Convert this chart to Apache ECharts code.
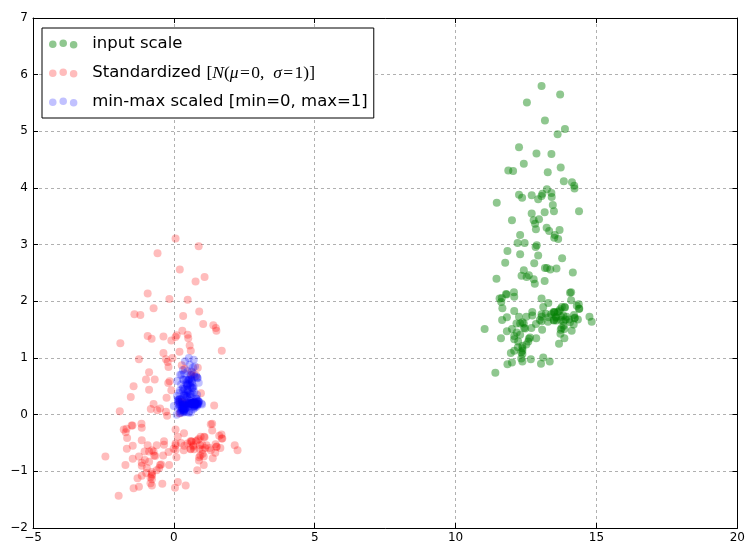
<!DOCTYPE html>
<html>
<head>
<meta charset="utf-8">
<script src="https://cdn.jsdelivr.net/npm/echarts@6/dist/echarts.min.js"></script>
<style>html,body{margin:0;padding:0;background:#fff}#c{width:748px;height:545px}</style>
</head>
<body>
<div id="c"></div>
<script>
// Axis ranges and ticks
const xTicks = [-5, 0, 5, 10, 15, 20];
const yTicks = [-2, -1, 0, 1, 2, 3, 4, 5, 6, 7];
const seriesNames = ['input scale', 'Standardized', 'min-max scaled [min=0, max=1]'];

// input scale (alcohol, malic acid)
const inputX = [14.23,13.2,13.16,14.37,13.24,14.2,14.39,14.06,14.83,13.86,
14.1,14.12,13.75,14.75,14.38,13.63,14.3,13.83,14.19,13.64,
14.06,12.93,13.71,12.85,13.5,13.05,13.39,13.3,13.87,14.02,
13.73,13.58,13.68,13.76,13.51,13.48,13.28,13.05,13.07,14.22,
13.56,13.41,13.88,13.24,13.05,14.21,14.38,13.9,14.1,13.94,
13.05,13.83,13.82,13.77,13.74,13.56,14.22,13.29,13.72,12.37,
12.33,12.64,13.67,12.37,12.17,12.37,13.11,12.37,13.34,12.21,
12.29,13.86,13.49,12.99,11.96,11.66,13.03,11.84,12.33,12.7,
12.0,12.72,12.08,13.05,11.84,12.67,12.16,11.65,11.64,12.08,
12.08,12.0,12.69,12.29,11.62,12.47,11.81,12.29,12.37,12.29,
12.08,12.6,12.34,11.82,12.51,12.42,12.25,12.72,12.22,11.61,
11.46,12.52,11.76,11.41,12.08,11.03,11.82,12.42,12.77,12.0,
11.45,11.56,12.42,13.05,11.87,12.07,12.43,11.79,12.37,12.04,
12.86,12.88,12.81,12.7,12.51,12.6,12.25,12.53,13.49,12.84,
12.93,13.36,13.52,13.62,12.25,13.16,13.88,12.87,13.32,13.08,
13.5,12.79,13.11,13.23,12.58,13.17,13.84,12.45,14.34,13.48,
12.36,13.69,12.85,12.96,13.78,13.73,13.45,12.82,13.58,13.4,
12.2,12.77,14.16,13.71,13.4,13.27,13.17,14.13];
const inputY = [1.71,1.78,2.36,1.95,2.59,1.76,1.87,2.15,1.64,1.35,
2.16,1.48,1.73,1.73,1.87,1.81,1.92,1.57,1.59,3.1,
1.63,3.8,1.86,1.6,1.81,2.05,1.77,1.72,1.9,1.68,
1.5,1.66,1.83,1.53,1.8,1.81,1.64,1.65,1.5,3.99,
1.71,3.84,1.89,3.98,1.77,4.04,3.59,1.68,2.02,1.73,
1.73,1.65,1.75,1.9,1.67,1.73,1.7,1.97,1.43,0.94,
1.1,1.36,1.25,1.13,1.45,1.21,1.01,1.17,0.94,1.19,
1.61,1.51,1.66,1.67,1.09,1.88,0.9,2.89,0.99,3.87,
0.92,1.81,1.13,3.86,0.89,0.98,1.61,1.67,2.06,1.33,
1.83,1.51,1.53,2.83,1.99,1.52,2.12,1.41,1.07,3.17,
2.08,1.34,2.45,1.72,1.73,2.55,1.73,1.75,1.29,1.35,
3.74,2.43,2.68,0.74,1.39,1.51,1.47,1.61,3.43,3.43,
2.4,2.05,4.43,5.8,4.31,2.16,1.53,2.13,1.63,4.3,
1.35,2.99,2.31,3.55,1.24,2.46,4.72,5.51,3.59,2.96,
2.81,2.56,3.17,4.95,3.88,3.57,5.04,4.61,3.24,3.9,
3.12,2.67,1.9,3.3,1.29,5.19,4.12,3.03,1.68,1.67,
3.83,3.26,3.27,3.45,2.76,4.36,3.7,3.37,2.58,4.6,
3.03,2.39,2.51,5.65,3.91,4.28,2.59,4.1];

// standardized values
const stdX = [1.52,0.25,0.20,1.69,0.30,1.48,1.72,1.31,2.26,1.06,
1.36,1.38,0.93,2.16,1.70,0.78,1.61,1.02,1.47,0.79,
1.31,-0.09,0.88,-0.19,0.62,0.06,0.48,0.37,1.07,1.26,
0.90,0.72,0.84,0.94,0.63,0.59,0.35,0.06,0.09,1.51,
0.69,0.51,1.09,0.30,0.06,1.49,1.70,1.11,1.36,1.16,
0.06,1.02,1.01,0.95,0.91,0.69,1.51,0.36,0.89,-0.78,
-0.83,-0.45,0.83,-0.78,-1.03,-0.78,0.14,-0.78,0.42,-0.98,
-0.88,1.06,0.60,-0.01,-1.29,-1.66,0.04,-1.43,-0.83,-0.37,
-1.24,-0.35,-1.14,0.06,-1.43,-0.41,-1.04,-1.67,-1.68,-1.14,
-1.14,-1.24,-0.38,-0.88,-1.71,-0.66,-1.47,-0.88,-0.78,-0.88,
-1.14,-0.49,-0.82,-1.46,-0.61,-0.72,-0.93,-0.35,-0.96,-1.72,
-1.90,-0.59,-1.53,-1.96,-1.14,-2.43,-1.46,-0.72,-0.28,-1.24,
-1.92,-1.78,-0.72,0.06,-1.40,-1.15,-0.70,-1.50,-0.78,-1.19,
-0.17,-0.15,-0.24,-0.37,-0.61,-0.49,-0.93,-0.58,0.60,-0.20,
-0.09,0.44,0.64,0.77,-0.93,0.20,1.09,-0.16,0.39,0.10,
0.62,-0.26,0.14,0.28,-0.52,0.21,1.04,-0.68,1.65,0.59,
-0.79,0.85,-0.19,-0.05,0.96,0.90,0.56,-0.22,0.72,0.49,
-0.99,-0.28,1.43,0.88,0.49,0.33,0.21,1.40];
const stdY = [-0.56,-0.50,0.02,-0.35,0.23,-0.52,-0.42,-0.17,-0.63,-0.89,
-0.16,-0.77,-0.54,-0.54,-0.42,-0.47,-0.37,-0.69,-0.67,0.69,
-0.63,1.31,-0.43,-0.66,-0.47,-0.26,-0.51,-0.55,-0.39,-0.59,
-0.75,-0.61,-0.45,-0.72,-0.48,-0.47,-0.63,-0.62,-0.75,1.48,
-0.56,1.35,-0.40,1.48,-0.51,1.53,1.13,-0.59,-0.28,-0.54,
-0.54,-0.62,-0.53,-0.39,-0.60,-0.54,-0.57,-0.33,-0.81,-1.25,
-1.11,-0.88,-0.98,-1.08,-0.80,-1.01,-1.19,-1.05,-1.25,-1.03,
-0.65,-0.74,-0.61,-0.60,-1.12,-0.41,-1.29,0.50,-1.21,1.38,
-1.27,-0.47,-1.08,1.37,-1.30,-1.22,-0.65,-0.60,-0.25,-0.90,
-0.45,-0.74,-0.72,0.44,-0.31,-0.73,-0.19,-0.83,-1.14,0.75,
-0.23,-0.89,0.10,-0.55,-0.54,0.19,-0.54,-0.53,-0.94,-0.89,
1.26,0.08,0.31,-1.43,-0.85,-0.74,-0.78,-0.65,0.98,0.98,
0.06,-0.26,1.88,3.11,1.77,-0.16,-0.72,-0.19,-0.63,1.76,
-0.89,0.59,-0.02,1.09,-0.98,0.11,2.14,2.85,1.13,0.56,
0.43,0.20,0.75,2.35,1.39,1.11,2.43,2.04,0.81,1.40,
0.70,0.30,-0.39,0.87,-0.94,2.56,1.60,0.62,-0.59,-0.60,
1.34,0.83,0.84,1.00,0.38,1.82,1.22,0.93,0.22,2.03,
0.62,0.05,0.16,2.97,1.41,1.74,0.23,1.58];

// min-max scaled values
const mmX = [0.842,0.571,0.561,0.879,0.582,0.834,0.884,0.797,1.000,0.745,
0.808,0.813,0.716,0.979,0.882,0.684,0.861,0.737,0.832,0.687,
0.797,0.500,0.705,0.479,0.650,0.532,0.621,0.597,0.747,0.787,
0.711,0.671,0.697,0.718,0.653,0.645,0.592,0.532,0.537,0.839,
0.666,0.626,0.750,0.582,0.532,0.837,0.882,0.755,0.808,0.766,
0.532,0.737,0.734,0.721,0.713,0.666,0.839,0.595,0.708,0.353,
0.342,0.424,0.695,0.353,0.300,0.353,0.547,0.353,0.608,0.311,
0.332,0.745,0.647,0.516,0.245,0.166,0.526,0.213,0.342,0.439,
0.255,0.445,0.276,0.532,0.213,0.432,0.297,0.163,0.161,0.276,
0.276,0.255,0.437,0.332,0.155,0.379,0.205,0.332,0.353,0.332,
0.276,0.413,0.345,0.208,0.389,0.366,0.321,0.445,0.313,0.153,
0.113,0.392,0.192,0.100,0.276,0.000,0.208,0.366,0.458,0.255,
0.111,0.139,0.366,0.532,0.221,0.274,0.368,0.200,0.353,0.266,
0.482,0.487,0.468,0.439,0.389,0.413,0.321,0.395,0.647,0.476,
0.500,0.613,0.655,0.682,0.321,0.561,0.750,0.484,0.603,0.539,
0.650,0.463,0.547,0.579,0.408,0.563,0.739,0.374,0.871,0.645,
0.350,0.700,0.479,0.508,0.724,0.711,0.637,0.471,0.671,0.624,
0.308,0.458,0.824,0.705,0.624,0.589,0.563,0.816];
const mmY = [0.192,0.206,0.320,0.239,0.366,0.202,0.223,0.279,0.178,0.121,
0.281,0.146,0.196,0.196,0.223,0.211,0.233,0.164,0.168,0.466,
0.176,0.605,0.221,0.170,0.211,0.259,0.204,0.194,0.229,0.186,
0.150,0.182,0.215,0.156,0.209,0.211,0.178,0.180,0.150,0.642,
0.192,0.613,0.227,0.640,0.204,0.652,0.563,0.186,0.253,0.196,
0.196,0.180,0.200,0.229,0.184,0.196,0.190,0.243,0.136,0.040,
0.071,0.123,0.101,0.077,0.140,0.093,0.053,0.085,0.040,0.089,
0.172,0.152,0.182,0.184,0.069,0.225,0.032,0.425,0.049,0.619,
0.036,0.211,0.077,0.617,0.030,0.047,0.172,0.184,0.261,0.117,
0.215,0.152,0.156,0.413,0.247,0.154,0.273,0.132,0.065,0.480,
0.265,0.119,0.338,0.194,0.196,0.358,0.196,0.200,0.109,0.121,
0.593,0.334,0.383,0.000,0.128,0.152,0.144,0.172,0.532,0.532,
0.328,0.259,0.729,1.000,0.706,0.281,0.156,0.275,0.176,0.704,
0.121,0.445,0.310,0.555,0.099,0.340,0.787,0.943,0.563,0.439,
0.409,0.360,0.480,0.832,0.621,0.559,0.850,0.765,0.494,0.625,
0.470,0.381,0.229,0.506,0.109,0.879,0.668,0.453,0.186,0.184,
0.611,0.498,0.500,0.536,0.399,0.715,0.585,0.520,0.364,0.763,
0.453,0.326,0.350,0.970,0.627,0.700,0.366,0.664];

const zip = (xs, ys) => xs.map((x, i) => [x, ys[i]]);
const fmt = v => String(v).replace('-', '\u2212');
const font = 'DejaVu Sans';
const threeDots = 'path://M0,5a4,4 0 1 0 8,0a4,4 0 1 0 -8,0Z M11,4a4,4 0 1 0 8,0a4,4 0 1 0 -8,0Z M22,5.5a4,4 0 1 0 8,0a4,4 0 1 0 -8,0Z';

const chart = echarts.init(document.getElementById('c'), null, {renderer: 'canvas'});
const gridLine = {show: true, lineStyle: {color: '#b0b0b0', width: 1, type: [3, 3]}};
const axLine = {show: true, onZero: false, lineStyle: {color: '#000', width: 1}};
const tick = {show: true, inside: true, length: 5, lineStyle: {color: '#000'}};
const xBase = {type: 'value', min: xTicks[0], max: xTicks[xTicks.length - 1], interval: 5, axisLine: axLine, axisTick: tick};
const yBase = {type: 'value', min: yTicks[0], max: yTicks[yTicks.length - 1], interval: 1, axisLine: axLine, axisTick: tick};

chart.setOption({
  animation: false,
  backgroundColor: '#fff',
  grid: {left: 33, right: 5, top: 18, bottom: 17, containLabel: false},
  xAxis: [
    Object.assign({}, xBase, {position: 'bottom', splitLine: gridLine,
      axisLabel: {color: '#000', fontFamily: font, fontSize: 12, margin: 4, formatter: fmt}}),
    Object.assign({}, xBase, {position: 'top', splitLine: {show: false}, axisLabel: {show: false}})
  ],
  yAxis: [
    Object.assign({}, yBase, {position: 'left', splitLine: gridLine,
      axisLabel: {color: '#000', fontFamily: font, fontSize: 12, margin: 5, formatter: fmt}}),
    Object.assign({}, yBase, {position: 'right', splitLine: {show: false}, axisLabel: {show: false}})
  ],
  legend: {
    orient: 'vertical', left: 42, top: 28,
    padding: [7, 6, 7, 7], itemGap: 11,
    itemWidth: 30, itemHeight: 9,
    backgroundColor: '#fff', borderColor: '#000', borderWidth: 1,
    icon: threeDots,
    textStyle: {fontFamily: font, fontSize: 16.5, color: '#000', lineHeight: 18, padding: [0, 0, 0, 9],
      rich: {
        s: {fontFamily: font, fontSize: 16.5, color: '#000'},
        i: {fontFamily: 'Liberation Serif', fontStyle: 'italic', fontSize: 17.5, color: '#000'},
        r: {fontFamily: 'Liberation Serif', fontSize: 17.5, color: '#000'}
      }},
    formatter: name => name === 'Standardized'
      ? '{s|Standardized }{r|[}{i|N}{r|(}{i|\u03bc}{r|\u200a=\u200a0,\u2002}{i|\u03c3}{r|\u200a=\u200a1)]}'
      : '{s|' + name + '}',
    data: seriesNames
  },
  series: [
    {name: seriesNames[0], type: 'scatter', symbol: 'circle', symbolSize: 8,
     itemStyle: {color: 'rgba(0,128,0,0.55)'}, data: zip(inputX, inputY)},
    {name: seriesNames[1], type: 'scatter', symbol: 'circle', symbolSize: 8,
     itemStyle: {color: 'rgba(255,0,0,0.33)'}, data: zip(stdX, stdY)},
    {name: seriesNames[2], type: 'scatter', symbol: 'circle', symbolSize: 8,
     itemStyle: {color: 'rgba(0,0,255,0.3)'}, data: zip(mmX, mmY)}
  ]
});
</script>
</body>
</html>
